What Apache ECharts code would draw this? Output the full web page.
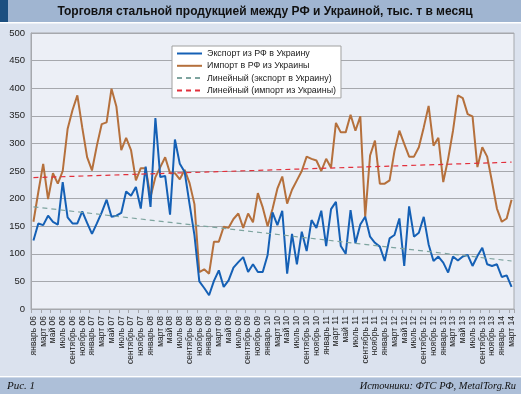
<!DOCTYPE html>
<html>
<head>
<meta charset="utf-8">
<script src="https://cdn.jsdelivr.net/npm/echarts@6/dist/echarts.min.js"></script>
<style>
html,body{margin:0;padding:0;background:#fff;}
#chart{width:521px;height:394px;}
</style>
</head>
<body>
<div id="chart"></div>
<script>
// ---- data ----
const monthNames = ['январь','февраль','март','апрель','май','июнь','июль','август','сентябрь','октябрь','ноябрь','декабрь'];
const years = ['06','07','08','09','10','11','12','13','14'];
const monthsInLastYear = 3;

const exportRF = [124,155,152,169,158,153,230,166,155,155,
177,156,136,155,175,198,167,169,174,213,
205,221,182,258,185,346,239,241,171,307,
263,248,190,134,50,38,25,51,70,40,
52,75,85,94,67,81,67,67,98,175,
152,178,64,136,81,140,105,161,147,178,
114,181,194,114,100,179,119,153,167,131,
120,113,87,128,134,164,78,186,131,138,
167,117,87,95,84,66,95,88,95,98,
78,96,111,81,78,81,58,61,40];

const importRF = [158,212,263,199,246,227,250,326,360,387,
329,275,251,296,335,338,399,367,288,310,
288,233,255,255,203,239,257,275,246,246,
235,252,228,190,67,72,64,122,122,149,
147,163,173,147,173,157,210,184,150,181,
218,240,191,216,233,250,276,272,269,250,
272,256,337,320,320,352,323,349,167,278,
305,227,227,233,286,323,299,276,276,293,
329,368,296,310,230,272,323,387,382,353,
349,257,293,276,230,182,158,164,198];

const exportTrendEnds = [185, 87];
const importTrendEnds = [238, 266];

const seriesNames = ['Экспорт из РФ в Украину','Импорт в РФ из Украины','Линейный (экспорт в Украину)','Линейный (импорт из Украины)'];
const yTicks = {min:0, max:500, interval:50};

// ---- build ----
const categories = [];
years.forEach((y, yi) => {
  const n = (yi === years.length - 1) ? monthsInLastYear : 12;
  for (let m = 0; m < n; m++) categories.push(monthNames[m] + ' ' + y);
});
const first = categories[0], last = categories[categories.length - 1];

const chart = echarts.init(document.getElementById('chart'), null, {renderer:'canvas'});
const sans = 'Liberation Sans, Arial, Helvetica, sans-serif';
const serif = 'Liberation Serif, Times New Roman, serif';

chart.setOption({
  animation:false,
  backgroundColor:'#dbe2ee',
  textStyle:{fontFamily:sans},
  graphic:[
    {type:'rect', shape:{x:0,y:0,width:521,height:22}, style:{fill:'#a0b5d1'}, z:0},
    {type:'rect', shape:{x:0,y:0,width:8,height:22}, style:{fill:'#1c4f80'}, z:0},
    {type:'rect', shape:{x:0,y:22,width:521,height:1.5}, style:{fill:'#ffffff'}, z:0},
    {type:'text', x:265, y:12, style:{text:'Торговля стальной продукцией между РФ и Украиной, тыс. т в месяц', fill:'#111', font:'bold 12px '+sans, textAlign:'center', textVerticalAlign:'middle'}, z:5},
    {type:'rect', shape:{x:0,y:376,width:521,height:1.5}, style:{fill:'#ffffff'}, z:0},
    {type:'rect', shape:{x:0,y:377.5,width:521,height:17}, style:{fill:'#adbfd8'}, z:0},
    {type:'text', x:7, y:386.5, style:{text:'Рис. 1', fill:'#111', font:'italic 11px '+serif, textAlign:'left', textVerticalAlign:'middle'}, z:5},
    {type:'text', x:516, y:386.5, style:{text:'Источники: ФТС РФ, MetalTorg.Ru', fill:'#111', font:'italic 10.4px '+serif, textAlign:'right', textVerticalAlign:'middle'}, z:5}
  ],
  grid:{left:31, right:7, top:33, bottom:85, show:true, backgroundColor:'#eceff6', borderColor:'#a6a8ad', borderWidth:1, containLabel:false},
  legend:{
    orient:'vertical', left:172, top:46,
    backgroundColor:'#ffffff', borderColor:'#a0a0a0', borderWidth:1,
    padding:[3,5,3,4], itemWidth:25, itemHeight:10, itemGap:3.3, itemTextGap:4,
    itemStyle:{opacity:0},
    textStyle:{fontSize:8.9, color:'#222', fontFamily:sans},
    data:seriesNames
  },
  xAxis:{
    type:'category', data:categories, boundaryGap:true,
    axisLine:{lineStyle:{color:'#a6a8ad', width:1}},
    axisTick:{show:true, interval:1, length:4, lineStyle:{color:'#a6a8ad'}},
    axisLabel:{interval:1, rotate:90, fontSize:8.5, color:'#222', margin:7, fontFamily:sans},
    splitLine:{show:false}
  },
  yAxis:{
    type:'value', min:yTicks.min, max:yTicks.max, interval:yTicks.interval,
    axisLine:{show:true, lineStyle:{color:'#a6a8ad'}},
    axisTick:{show:false},
    axisLabel:{fontSize:9.5, color:'#222', margin:6, fontFamily:sans},
    splitLine:{lineStyle:{color:'#a6a8ad', width:1}}
  },
  series:[
    {name:seriesNames[0], type:'line', data:exportRF, symbol:'none', lineStyle:{color:'#1560b5', width:2}, itemStyle:{color:'#1560b5'}, z:3},
    {name:seriesNames[1], type:'line', data:importRF, symbol:'none', lineStyle:{color:'#b5703c', width:2}, itemStyle:{color:'#b5703c'}, z:2},
    {name:seriesNames[2], type:'line', data:[[first, exportTrendEnds[0]],[last, exportTrendEnds[1]]], symbol:'none', lineStyle:{color:'#7ea49f', width:1.2, type:[5,4]}, itemStyle:{color:'#7ea49f'}, z:4},
    {name:seriesNames[3], type:'line', data:[[first, importTrendEnds[0]],[last, importTrendEnds[1]]], symbol:'none', lineStyle:{color:'#e2303c', width:1.2, type:[5,4]}, itemStyle:{color:'#e2303c'}, z:4}
  ]
});
</script>
</body>
</html>
